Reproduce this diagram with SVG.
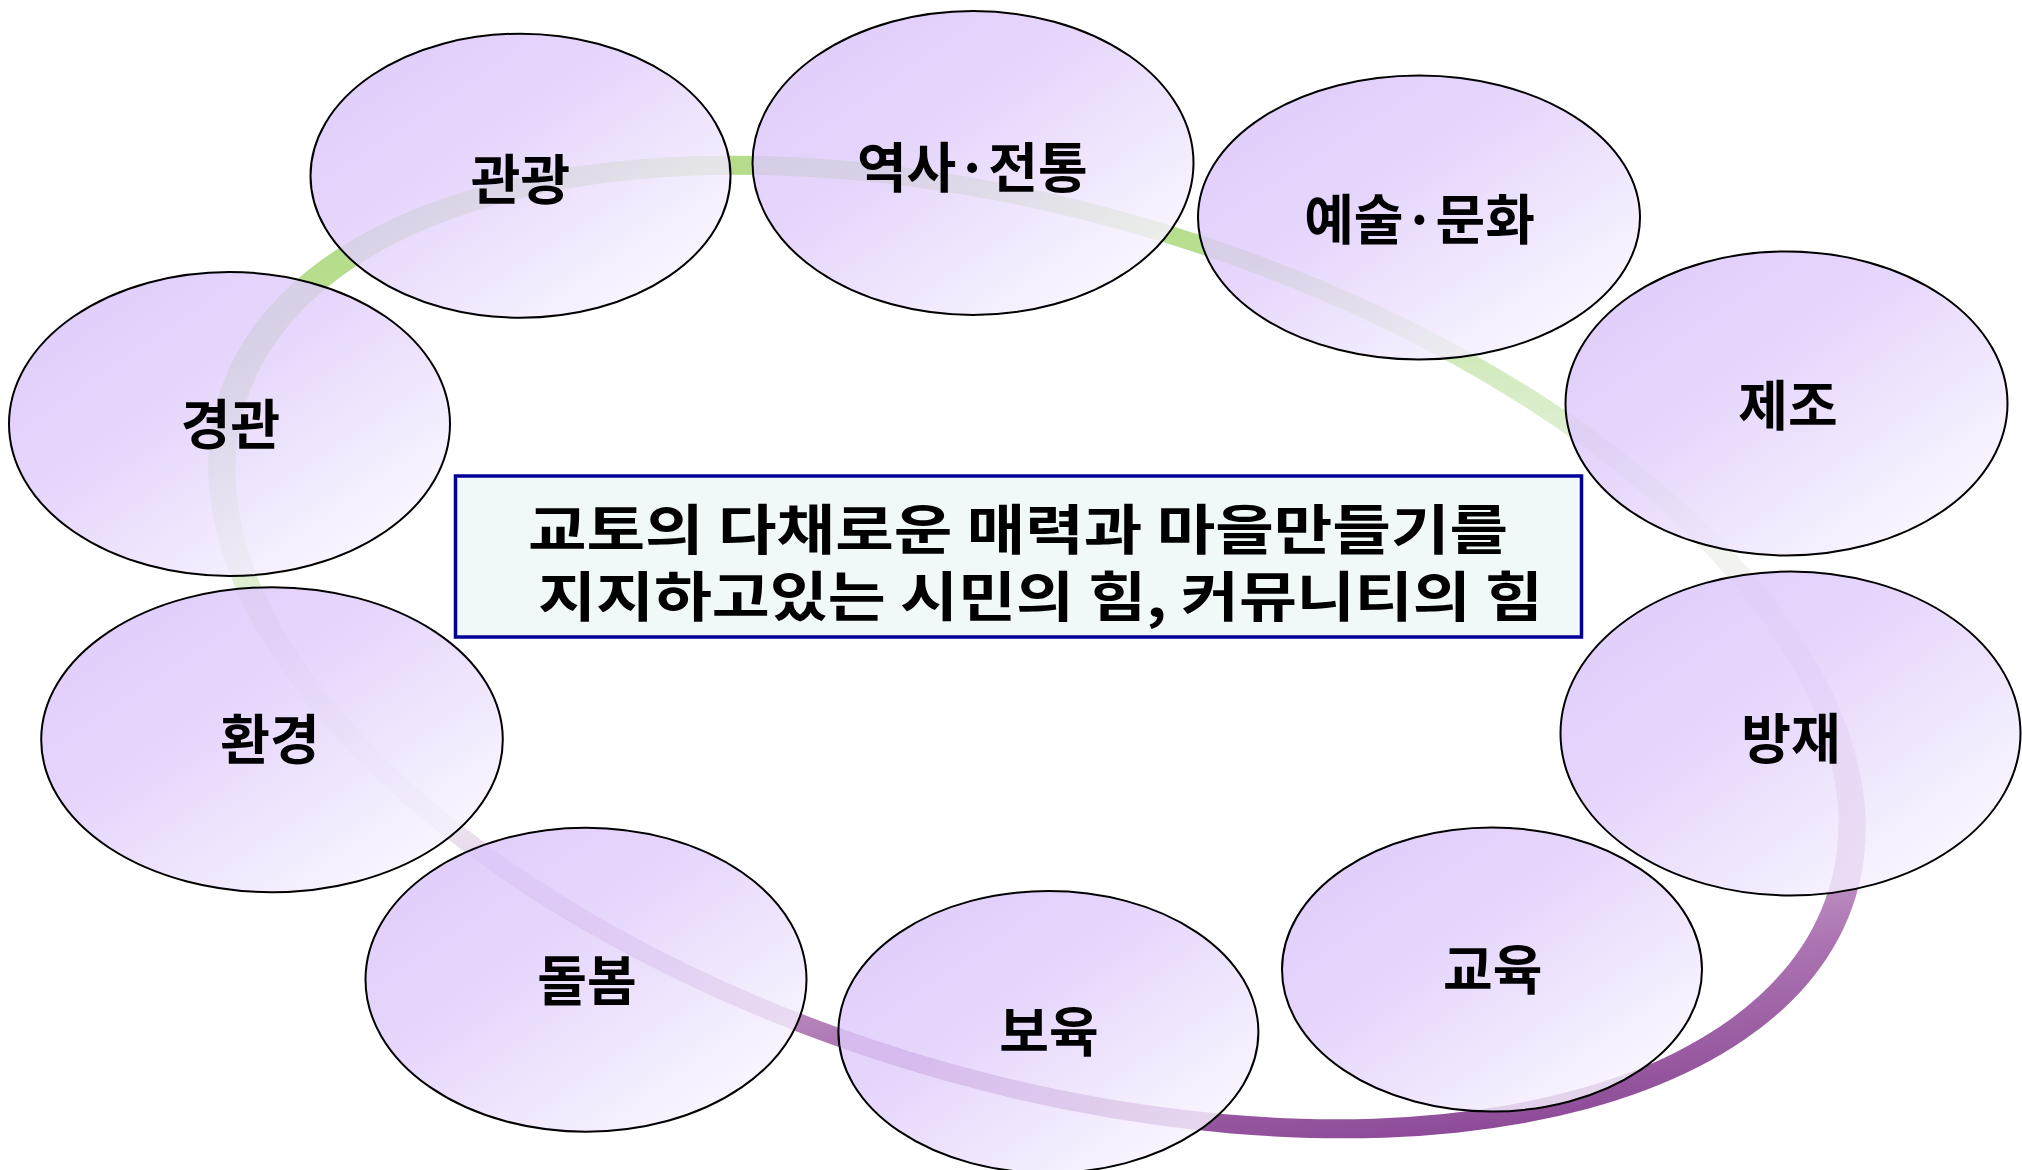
<svg xmlns="http://www.w3.org/2000/svg" width="2022" height="1170" viewBox="0 0 2022 1170">
<defs>
<linearGradient id="ringGrad" x1="0.179" y1="0.117" x2="0.821" y2="0.883">
<stop offset="0" stop-color="#b4dc8a"/>
<stop offset="0.15" stop-color="#b8df90"/>
<stop offset="0.3" stop-color="#d6ecc4"/>
<stop offset="0.45" stop-color="#eef5ea"/>
<stop offset="0.55" stop-color="#f6f0f6"/>
<stop offset="0.65" stop-color="#e6d8ea"/>
<stop offset="0.76" stop-color="#c8a2cc"/>
<stop offset="0.86" stop-color="#ac74b2"/>
<stop offset="1" stop-color="#8e4c98"/>
</linearGradient>
<linearGradient id="nodeGrad" x1="0" y1="0" x2="1" y2="1">
<stop offset="0" stop-color="#d8c0fb"/>
<stop offset="0.4" stop-color="#e0cdfb"/>
<stop offset="1" stop-color="#ffffff"/>
</linearGradient>
<style>
.node ellipse{fill:url(#nodeGrad);fill-opacity:0.82;stroke:#000;stroke-width:2}
.lbl{font-family:"Noto Sans CJK KR","Noto Sans",sans-serif;font-size:54px;font-weight:bold;fill:#000;text-anchor:middle}
.box{fill:#f0f8f8;stroke:#000099;stroke-width:3.5}
.boxt{font-family:"Noto Sans CJK KR","Noto Sans",sans-serif;font-size:54px;font-weight:bold;fill:#000}
</style>
</defs>
<rect width="2022" height="1170" fill="#ffffff"/>
<g id="connectors">
<path transform="translate(1037,647) rotate(17)" fill="url(#ringGrad)" fill-rule="evenodd" d="M -856,0 A 856 442 0 1 0 856,0 A 856 442 0 1 0 -856,0 Z M -828,0 A 828 424 0 1 0 828,0 A 828 424 0 1 0 -828,0 Z"/>
</g>
<g id="node-gwangwang" class="node"><ellipse cx="520.5" cy="175.7" rx="210" ry="142"/><text class="lbl" x="520.5" y="200">관광</text></g>
<g id="node-yeoksa" class="node"><ellipse cx="973" cy="163" rx="220.5" ry="152"/><text class="lbl" x="972.3" y="187.5">역사·전통</text></g>
<g id="node-yesul" class="node"><ellipse cx="1419" cy="217.5" rx="221" ry="142"/><text class="lbl" x="1419.5" y="240">예술·문화</text></g>
<g id="node-jejo" class="node"><ellipse cx="1786.5" cy="403.5" rx="221" ry="152"/><text class="lbl" x="1788" y="426">제조</text></g>
<g id="node-bangjae" class="node"><ellipse cx="1790.5" cy="733.5" rx="230" ry="162"/><text class="lbl" x="1791" y="758.5">방재</text></g>
<g id="node-gyoyuk" class="node"><ellipse cx="1492" cy="969.5" rx="210" ry="142"/><text class="lbl" x="1492.7" y="990">교육</text></g>
<g id="node-boyuk" class="node"><ellipse cx="1048.4" cy="1032" rx="210" ry="141"/><text class="lbl" x="1049" y="1052">보육</text></g>
<g id="node-dolbom" class="node"><ellipse cx="586" cy="979.7" rx="220.5" ry="152"/><text class="lbl" x="587" y="1001">돌봄</text></g>
<g id="node-hwangyeong" class="node"><ellipse cx="272" cy="739.7" rx="230.8" ry="152.5"/><text class="lbl" x="270" y="760">환경</text></g>
<g id="node-gyeonggwan" class="node"><ellipse cx="229.5" cy="424" rx="220.5" ry="152"/><text class="lbl" x="230.5" y="445">경관</text></g>
<g id="node-center">
<rect class="box" x="455.5" y="476" width="1126" height="161"/>
<text class="boxt" x="528" y="549.5" textLength="980" lengthAdjust="spacingAndGlyphs">교토의 다채로운 매력과 마을만들기를</text>
<text class="boxt" x="538" y="616.5" textLength="1005" lengthAdjust="spacingAndGlyphs">지지하고있는 시민의 힘, 커뮤니티의 힘</text>
</g>
</svg>
